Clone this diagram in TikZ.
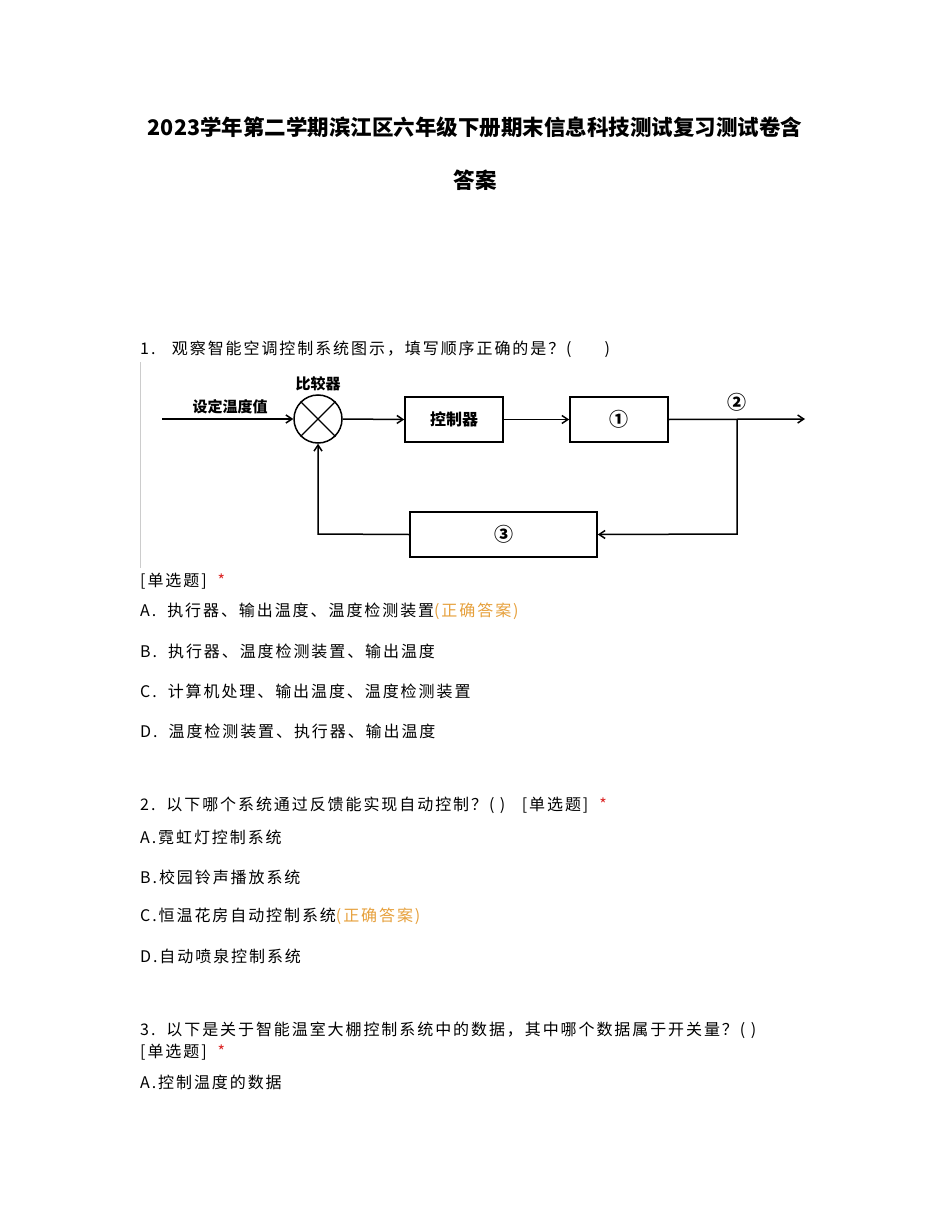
\documentclass[tikz,border=0pt]{standalone}
\usepackage{fontspec}
\setmainfont{Liberation Serif}
\newfontfamily\cjk{Noto Sans CJK SC}
\newfontfamily\cjkb{Noto Sans CJK SC}[LetterSpace=12]
\usetikzlibrary{arrows.meta}
\definecolor{ans}{RGB}{230,160,60}
\definecolor{star}{RGB}{220,40,40}
\begin{document}
\begin{tikzpicture}[x=1pt,y=-1pt,
  txt/.style={anchor=west,inner sep=0pt,font=\cjkb\fontsize{16}{16}\selectfont},
  ttl/.style={inner sep=0pt,font=\cjk\bfseries\fontsize{21.5}{22}\selectfont},
  blk/.style={draw,line width=1.6pt,minimum width=98pt,minimum height=45pt,inner sep=0pt,font=\cjk\bfseries\fontsize{16}{16}\selectfont},
  lab/.style={inner sep=0pt,font=\cjk\bfseries\fontsize{15}{15}\selectfont},
  con/.style={line width=1.5pt,-{Straight Barb[length=6pt,width=8pt]}}]
\useasboundingbox (0,0) rectangle (950,1230);
\node[ttl] (t1) at (475,127) {2023学年第二学期滨江区六年级下册期末信息科技测试复习测试卷含};
\node[ttl] (t2) at (475,180) {答案};
\node[txt] (q1) at (140,349) {1.\ \ \ 观察智能空调控制系统图示，填写顺序正确的是？(\ \ \ \ \ \ )};
% diagram
\draw[gray!40,line width=0.8pt] (140,362) -- (140,568);
\coordinate (in) at (162,419);
\node[draw,circle,line width=1.5pt,minimum size=48pt,inner sep=0pt] (cmp) at (318,419) {};
\draw[line width=1.3pt] (cmp.north west) -- (cmp.south east) (cmp.north east) -- (cmp.south west);
\node[lab] (l1) at (230,407) {设定温度值};
\node[lab] (l2) at (318,384) {比较器};
\node[blk] (ctl) at (454,419.5) {控制器};
\node[blk,font=\cjk\bfseries\fontsize{19}{19}\selectfont] (b1) at (619,419.5) {①};
\node[blk,minimum width=187pt,font=\cjk\bfseries\fontsize{19}{19}\selectfont] (b3) at (503.5,534.5) {③};
\node[lab,font=\cjk\bfseries\fontsize{19}{19}\selectfont] (l3) at (737,402) {②};
\coordinate (out) at (805,419);
\coordinate (br) at (737,419);
\coordinate (c1) at (737,534);
\coordinate (c2) at (318,534);
\draw[con] (in) -- (cmp.west);
\draw[con] (cmp.east) -- (ctl.west);
\draw[con] (ctl.east) -- (b1.west);
\draw[con] (b1.east) -- (out);
\draw[con] (br) -- (c1) -- (b3.east);
\draw[con] (b3.west) -- (c2) -- (cmp.south);
% questions
\node[txt] (s1) at (140,581) {[单选题]\ \ \textcolor{star}{*}};
\node[txt] (a1) at (140,611) {A.\ \ 执行器、输出温度、温度检测装置\textcolor{ans}{(正确答案)}};
\node[txt] (b1t) at (140,651) {B.\ \ 执行器、温度检测装置、输出温度};
\node[txt] (c1t) at (140,691) {C.\ \ 计算机处理、输出温度、温度检测装置};
\node[txt] (d1t) at (140,731) {D.\ \ 温度检测装置、执行器、输出温度};
\node[txt] (q2) at (140,805) {2.\ \ 以下哪个系统通过反馈能实现自动控制？(\ )\ \ \ [单选题]\ \ \textcolor{star}{*}};
\node[txt] (a2) at (140,837) {A.霓虹灯控制系统};
\node[txt] (b2) at (140,877) {B.校园铃声播放系统};
\node[txt] (c2t) at (140,916) {C.恒温花房自动控制系统\textcolor{ans}{(正确答案)}};
\node[txt] (d2) at (140,956) {D.自动喷泉控制系统};
\node[txt] (q3) at (140,1030) {3.\ \ 以下是关于智能温室大棚控制系统中的数据，其中哪个数据属于开关量？(\ )};
\node[txt] (s3) at (140,1052) {[单选题]\ \ \textcolor{star}{*}};
\node[txt] (a3) at (140,1082) {A.控制温度的数据};
\end{tikzpicture}
\end{document}
